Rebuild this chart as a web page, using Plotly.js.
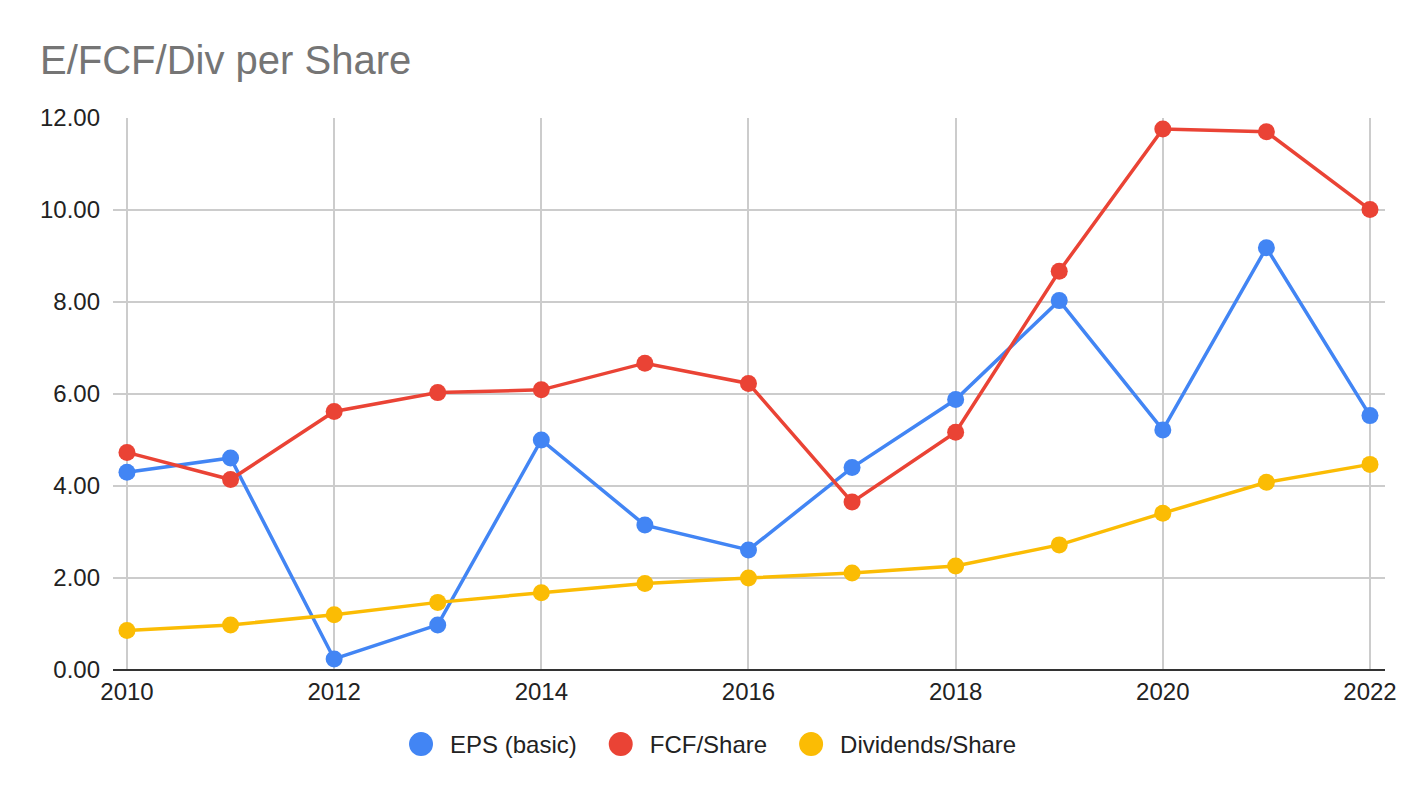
<!DOCTYPE html>
<html>
<head>
<meta charset="utf-8">
<script src="https://cdn.plot.ly/plotly-3.0.1.min.js"></script>
<style>html,body{margin:0;padding:0;background:#fff;}#chart{width:1424px;height:798px;}</style>
</head>
<body>
<div id="chart"></div>
<script>
const years = [2010, 2011, 2012, 2013, 2014, 2015, 2016, 2017, 2018, 2019, 2020, 2021, 2022];
const epsBasic = [4.30, 4.61, 0.24, 0.98, 5.00, 3.15, 2.61, 4.40, 5.88, 8.03, 5.22, 9.18, 5.53];
const fcfShare = [4.73, 4.14, 5.62, 6.03, 6.09, 6.67, 6.23, 3.65, 5.17, 8.67, 11.76, 11.70, 10.01];
const divShare = [0.86, 0.98, 1.20, 1.47, 1.68, 1.88, 2.00, 2.11, 2.26, 2.72, 3.41, 4.08, 4.47];
const seriesNames = ["EPS (basic)", "FCF/Share", "Dividends/Share"];
const seriesColors = ["#4285F4", "#EA4335", "#FBBC04"];
const seriesData = [epsBasic, fcfShare, divShare];

const traces = [];
seriesData.forEach((vals, i) => {
  traces.push({
    x: years, y: vals, type: "scatter", mode: "lines+markers",
    name: seriesNames[i], showlegend: false, legendgroup: "g" + i,
    line: {color: seriesColors[i], width: 3.5},
    marker: {color: seriesColors[i], size: 17},
    hoverinfo: "x+y+name"
  });
});
seriesData.forEach((vals, i) => {
  traces.push({
    x: [null], y: [null], type: "scatter", mode: "markers",
    name: seriesNames[i], showlegend: true, legendgroup: "g" + i,
    marker: {color: seriesColors[i], size: 16}
  });
});

const layout = {
  width: 1424, height: 798,
  paper_bgcolor: "#ffffff", plot_bgcolor: "#ffffff",
  font: {family: "Liberation Sans, Arial, sans-serif", size: 24, color: "#222222"},
  margin: {l: 113, r: 39, t: 118, b: 128, pad: 0},
  title: {
    text: "E/FCF/Div per Share",
    font: {family: "Liberation Sans, Arial, sans-serif", size: 40, color: "#757575"},
    xref: "container", yref: "container", x: 40/1424, xanchor: "left",
    y: 1 - 60/798, yanchor: "middle"
  },
  xaxis: {
    range: [2009.865, 2022.145], tickmode: "linear", tick0: 2010, dtick: 2,
    showgrid: true, gridcolor: "#cccccc", gridwidth: 1.5,
    zeroline: false, showline: false, ticks: "",
    tickfont: {size: 24, color: "#222222"}, ticklabelstandoff: 5
  },
  yaxis: {
    range: [0, 12], tickmode: "linear", tick0: 0, dtick: 2, tickformat: ".2f",
    showgrid: true, gridcolor: "#cccccc", gridwidth: 1.5,
    zeroline: true, zerolinecolor: "#333333", zerolinewidth: 2.2,
    showline: false, ticks: "",
    tickfont: {size: 24, color: "#222222"}, ticklabelstandoff: 12
  },
  showlegend: true,
  legend: {
    orientation: "h", x: 0.467, xanchor: "center", y: -0.135, yanchor: "middle",
    font: {size: 24, color: "#222222"}, itemwidth: 48, traceorder: "normal"
  },
  hovermode: "closest"
};

Plotly.newPlot("chart", traces, layout, {displayModeBar: false, responsive: false}).then(function(gd) {
  gd.querySelectorAll(".legend .legendpoints path.scatterpts").forEach(function(p) {
    const t = p.getAttribute("transform") || "";
    p.setAttribute("transform", t + " scale(1.5)");
  });
  gd.querySelectorAll(".legend .scrollbox, .legend [clip-path]").forEach(function(el) {
    el.removeAttribute("clip-path");
  });
  const extraGap = 10;
  gd.querySelectorAll(".legend g.traces").forEach(function(g, i) {
    const t = g.getAttribute("transform") || "";
    const m = t.match(/translate\(\s*([-\d.]+)[ ,]+([-\d.]+)\s*\)/);
    if (m) {
      const nx = parseFloat(m[1]) + (i - 1) * extraGap;
      g.setAttribute("transform", "translate(" + nx + "," + m[2] + ")");
    }
  });
});
</script>
</body>
</html>
